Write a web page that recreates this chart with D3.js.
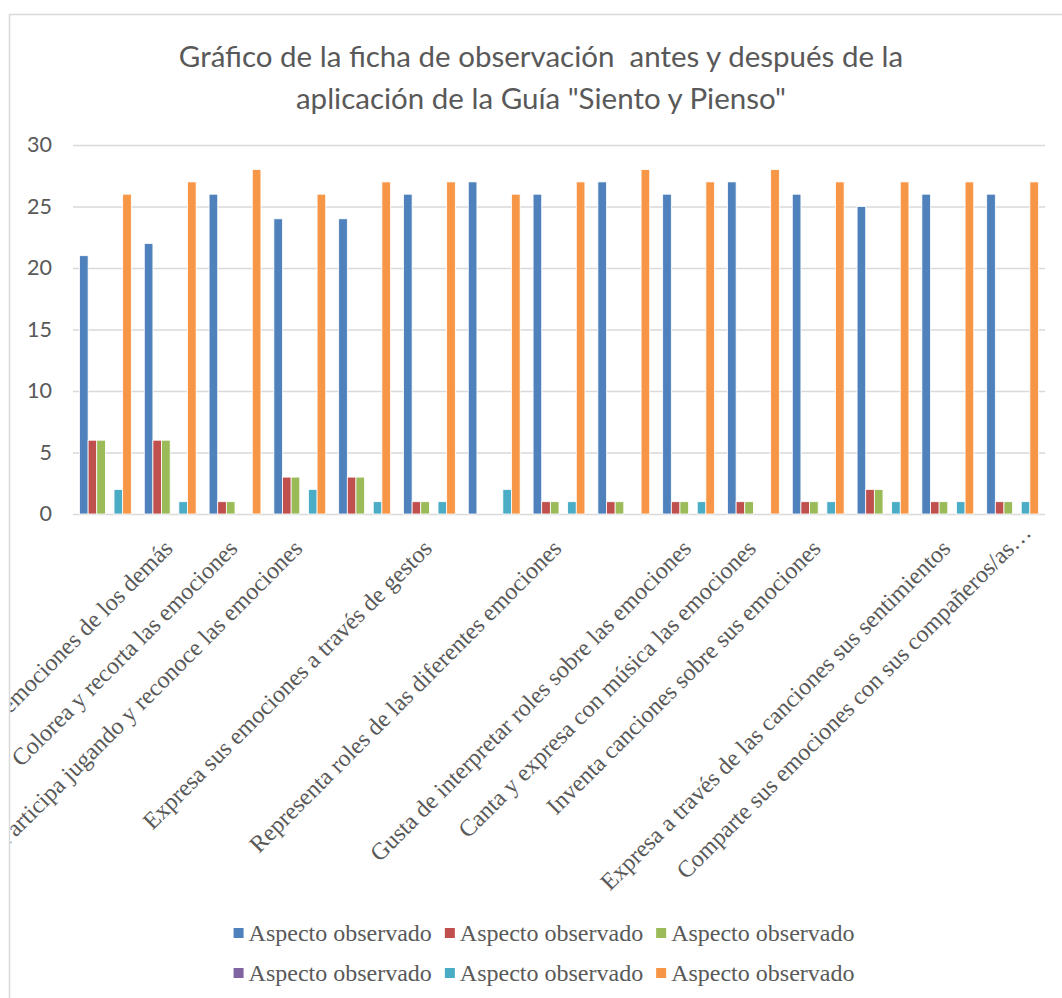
<!DOCTYPE html>
<html>
<head>
<meta charset="utf-8">
<script src="https://cdn.jsdelivr.net/npm/d3@7"></script>
<style>
    body { margin: 0; background: #fff; }
    svg { display: block; }
</style>
</head>
<body>
<div id="chart"></div>
<script>
    // categories (empty strings = categories without a visible label)
    const categories = [
        "",
        "emociones de los demás",
        "Colorea y recorta las emociones",
        "Participa jugando y reconoce las emociones",
        "",
        "Expresa sus emociones a través de gestos",
        "",
        "Representa roles de las diferentes emociones",
        "",
        "Gusta de interpretar roles sobre las emociones",
        "Canta y expresa con música las emociones",
        "Inventa canciones sobre sus emociones",
        "",
        "Expresa a través de las canciones sus sentimientos",
        "Comparte sus emociones con sus compañeros/as…"
    ];

    const seriesNames = ["Aspecto observado", "Aspecto observado", "Aspecto observado",
        "Aspecto observado", "Aspecto observado", "Aspecto observado"];
    const seriesColors = ["#4f81bd", "#c0504d", "#9bbb59", "#8064a2", "#4bacc6", "#f79646"];

    const blueValues   = [21, 22, 26, 24, 24, 26, 27, 26, 27, 26, 27, 26, 25, 26, 26];
    const redValues    = [6, 6, 1, 3, 3, 1, 0, 1, 1, 1, 1, 1, 2, 1, 1];
    const greenValues  = [6, 6, 1, 3, 3, 1, 0, 1, 1, 1, 1, 1, 2, 1, 1];
    const purpleValues = [0, 0, 0, 0, 0, 0, 0, 0, 0, 0, 0, 0, 0, 0, 0];
    const cyanValues   = [2, 1, 0, 2, 1, 1, 2, 1, 0, 1, 0, 1, 1, 1, 1];
    const orangeValues = [26, 27, 28, 26, 27, 27, 26, 27, 28, 27, 28, 27, 27, 27, 27];

    const yTicks = [0, 5, 10, 15, 20, 25, 30];
    const titleLines = ["Gráfico de la ficha de observación  antes y después de la",
        "aplicación de la Guía \"Siento y Pienso\""];

    const series = [blueValues, redValues, greenValues, purpleValues, cyanValues, orangeValues];

    const W = 1062, H = 998,
        plot = {left: 73, right: 1045, top: 145, bottom: 514},
        textColor = "#595959", gridColor = "#d9d9d9",
        serif = "'Liberation Serif', 'Times New Roman', serif";

    const svg = d3.select("#chart")
        .append("svg")
        .attr("width", W)
        .attr("height", H);

    // chart frame
    svg.append("rect")
        .attr("x", 9.5).attr("y", 14.5)
        .attr("width", 1100).attr("height", 1100)
        .attr("fill", "#fff")
        .attr("stroke", gridColor)
        .attr("stroke-width", 1.5);

    svg.append("clipPath").attr("id", "frameClip")
        .append("rect")
        .attr("x", 10.5).attr("y", 15)
        .attr("width", 1100).attr("height", 1100);

    // title
    svg.append("text")
        .attr("x", 541)
        .attr("y", 67)
        .attr("text-anchor", "middle")
        .style("font-family", "Lato, 'Open Sans', sans-serif")
        .style("font-size", "29.5px")
        .style("white-space", "pre")
        .attr("fill", textColor)
        .selectAll("tspan")
        .data(titleLines)
        .join("tspan")
        .attr("x", 541)
        .attr("dy", (d, i) => i === 0 ? 0 : 42)
        .text(d => d);

    const x = d3.scaleBand()
        .domain(d3.range(categories.length))
        .range([plot.left, plot.right])
        .paddingInner(0.2)
        .paddingOuter(0.1);

    const xSub = d3.scaleBand()
        .domain(d3.range(series.length))
        .range([0, x.bandwidth()]);

    const y = d3.scaleLinear()
        .domain([0, 30])
        .range([plot.bottom, plot.top]);

    // gridlines + y labels
    const yAxis = d3.axisLeft(y)
        .tickValues(yTicks)
        .tickSize(-(plot.right - plot.left))
        .tickPadding(21);

    const gy = svg.append("g")
        .attr("transform", `translate(${plot.left},0)`)
        .call(yAxis);
    gy.select(".domain").remove();
    gy.selectAll(".tick line")
        .attr("stroke", gridColor)
        .attr("stroke-width", 1.5);
    gy.selectAll(".tick text")
        .attr("fill", textColor)
        .style("font-family", "Lato, sans-serif")
        .style("font-size", "21.5px");

    // bars
    const groups = svg.append("g")
        .selectAll("g")
        .data(categories.map((c, i) => i))
        .join("g")
        .attr("transform", i => `translate(${x(i)},0)`);

    groups.selectAll("rect")
        .data(i => series.map((s, k) => ({k: k, v: s[i]})))
        .join("rect")
        .attr("x", d => xSub(d.k))
        .attr("width", xSub.bandwidth())
        .attr("y", d => y(d.v))
        .attr("height", d => y(0) - y(d.v))
        .attr("fill", d => seriesColors[d.k])
        .attr("stroke", "#fff")
        .attr("stroke-width", 0.8)
        .style("display", d => d.v > 0 ? null : "none");

    // category labels, rotated -45
    const labels = svg.append("g")
        .attr("clip-path", "url(#frameClip)");

    labels.selectAll("text")
        .data(categories.map((c, i) => ({c: c, i: i})).filter(d => d.c !== ""))
        .join("text")
        .attr("transform", d => {
            let cx = x(d.i) + x.bandwidth() / 2 - 2, cy = 544;
            if (d.c.endsWith("…")) { cx += 16; cy -= 16; }
            return `translate(${cx},${cy}) rotate(-45)`;
        })
        .attr("text-anchor", "end")
        .attr("dy", "0.35em")
        .attr("fill", textColor)
        .style("font-family", serif)
        .style("font-size", "24px")
        .text(d => d.c);

    // legend
    const legendRows = [[0, 1, 2], [3, 4, 5]];

    const legend = svg.append("g");
    legendRows.forEach(function (row, r) {
        const ly = 933 + r * 40;
        let items = legend.append("g");
        let xPos = 0;
        row.forEach(function (k) {
            let item = items.append("g").attr("transform", `translate(${xPos},0)`);
            item.append("rect")
                .attr("x", 0).attr("y", -5)
                .attr("width", 10).attr("height", 10)
                .attr("fill", seriesColors[k]);
            let t = item.append("text")
                .attr("x", 15)
                .attr("dy", "0.35em")
                .attr("fill", textColor)
                .style("font-family", serif)
                .style("font-size", "24px")
                .text(seriesNames[k]);
            xPos += 15 + t.node().getComputedTextLength() + 13;
        });
        xPos -= 13;
        items.attr("transform", `translate(${544 - xPos / 2},${ly})`);
    });
</script>
</body>
</html>
